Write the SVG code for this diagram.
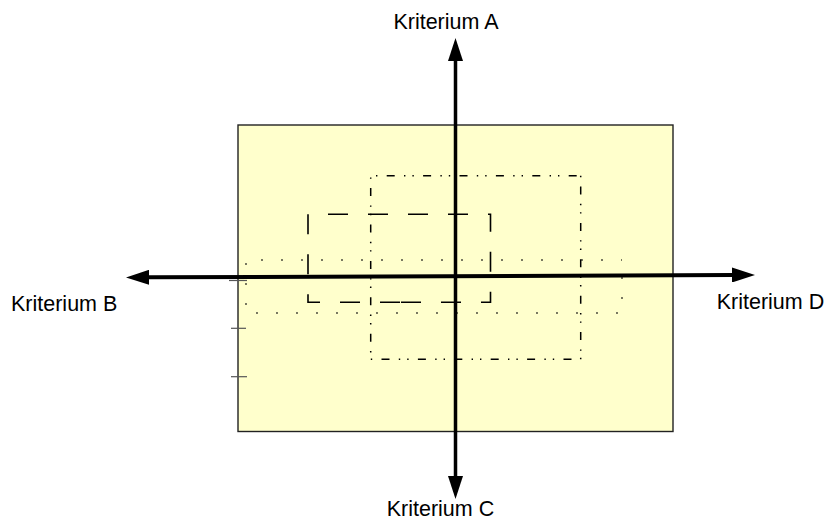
<svg xmlns="http://www.w3.org/2000/svg" width="829" height="521" viewBox="0 0 829 521">
  <defs>
    <marker id="arrow" viewBox="0 0 23 15" refX="0" refY="7.5" markerWidth="23" markerHeight="15" markerUnits="userSpaceOnUse" orient="auto-start-reverse">
      <path d="M0,0 L23,7.5 L0,15 Z" fill="#000"/>
    </marker>
    <style>
      .label { font-family: "Liberation Sans", Arial, sans-serif; font-size: 21.5px; fill: #000; }
      .area { fill: #FFFFCC; stroke: #222; stroke-width: 1.4; }
      .dashed { fill: none; stroke: #000; stroke-width: 1.6; stroke-dasharray: 20 20; }
      .dotted { fill: none; stroke: #000; stroke-width: 1.4; stroke-dasharray: 1.4 18.6; stroke-dashoffset: 0.7; }
      .dashdot { fill: none; stroke: #000; stroke-width: 1.5; stroke-dasharray: 8 9.3 1.4 7 1.4 9.3; stroke-dashoffset: 32.4; }
      .tick { stroke: #555; stroke-width: 1.2; }
      .axis { stroke: #000; fill: none; }
    </style>
  </defs>

  <g id="area">
    <rect class="area" x="238" y="125" width="435" height="306.5"/>
  </g>

  <g id="ticks">
    <line class="tick" x1="229" y1="280.5" x2="247" y2="280.5"/>
    <line class="tick" x1="231" y1="328.3" x2="246" y2="328.3"/>
    <line class="tick" x1="231" y1="376.7" x2="247" y2="376.7"/>
  </g>

  <g id="region-dotted">
    <path class="dotted" d="M622,260 H246 V313 H622 Z"/>
  </g>

  <g id="region-dashed">
    <path class="dashed" d="M400,302.3 H308 V214.3 H490.5 V302.3 H400"/>
  </g>

  <g id="region-dashdot">
    <path class="dashdot" d="M580.7,175.7 H370.7 V359.3 H580.7 Z"/>
  </g>

  <g id="connectors">
    <line class="axis" x1="455.5" y1="61" x2="455.5" y2="476" stroke-width="3.5" marker-start="url(#arrow)" marker-end="url(#arrow)"/>
    <line class="axis" x1="149" y1="277.3" x2="732" y2="275" stroke-width="4" marker-start="url(#arrow)" marker-end="url(#arrow)"/>
  </g>

  <g id="label-a"><text class="label" x="393.4" y="29">Kriterium A</text></g>
  <g id="label-b"><text class="label" x="11" y="311">Kriterium B</text></g>
  <g id="label-c"><text class="label" x="386.7" y="516">Kriterium C</text></g>
  <g id="label-d"><text class="label" x="716.7" y="309.3">Kriterium D</text></g>
</svg>
